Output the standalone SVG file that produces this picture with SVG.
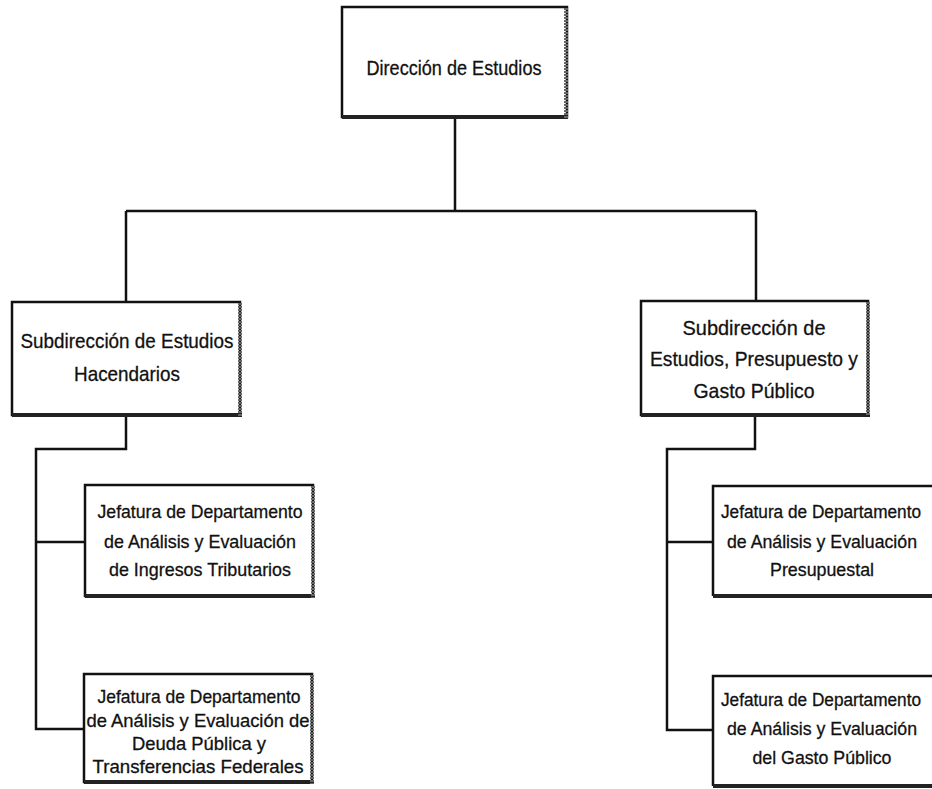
<svg xmlns="http://www.w3.org/2000/svg" width="932" height="789" viewBox="0 0 932 789">
<style>
.box{fill:#fff;stroke:#111;stroke-width:2.5}
.open{fill:#fff;stroke:none}
.edge{fill:none;stroke:#111;stroke-width:2.5}
.shb{fill:none;stroke:#222;stroke-width:4}
.shr{fill:none;stroke:#666;stroke-width:4;stroke-dasharray:2 1}
.t{font-family:"Liberation Sans",Arial,sans-serif;font-size:21px;fill:#111;stroke:#111;stroke-width:0.3;text-anchor:middle}
.j{font-size:18.5px}
.k{font-size:18px}
.c{fill:none;stroke:#111;stroke-width:2.5}
</style>
<rect width="932" height="789" fill="#fff"/>
<g id="connectors">
<path class="c" d="M455,118 V211 M126,211 H756 M126,211 V301 M756,211 V300"/>
<path class="c" d="M126,416 V449 H36 V729 H83 M36,542 H84"/>
<path class="c" d="M755,416 V449 H667 V730 H712 M667,542 H712"/>
</g>
<g id="direccion">
<rect class="box" x="342" y="7" width="225" height="110"/>
<path class="shb" d="M342,117 H568"/><path class="shr" d="M566,8 V118"/>
<text class="t" x="454" y="75" textLength="175" lengthAdjust="spacingAndGlyphs">Dirección de Estudios</text>
</g>
<g id="sub-hacendarios">
<rect class="box" x="12" y="302" width="228" height="113"/>
<path class="shb" d="M12,415 H242"/><path class="shr" d="M240,303 V416"/>
<text class="t" x="127" y="348" textLength="213" lengthAdjust="spacingAndGlyphs">Subdirección de Estudios</text>
<text class="t" x="127" y="381" textLength="106" lengthAdjust="spacingAndGlyphs">Hacendarios</text>
</g>
<g id="sub-presupuesto">
<rect class="box" x="641" y="301" width="227" height="114"/>
<path class="shb" d="M641,415 H870"/><path class="shr" d="M868,302 V416"/>
<text class="t" x="754" y="335" textLength="143" lengthAdjust="spacingAndGlyphs">Subdirección de</text>
<text class="t" x="754" y="366" textLength="208" lengthAdjust="spacingAndGlyphs">Estudios, Presupuesto y</text>
<text class="t" x="754" y="398" textLength="121" lengthAdjust="spacingAndGlyphs">Gasto Público</text>
</g>
<g id="jef-ingresos">
<rect class="box" x="85" y="485" width="228" height="111"/>
<path class="shb" d="M85,596 H315"/><path class="shr" d="M313,486 V598"/>
<text class="t j" x="200" y="518" textLength="205" lengthAdjust="spacingAndGlyphs">Jefatura de Departamento</text>
<text class="t j" x="200" y="548" textLength="192" lengthAdjust="spacingAndGlyphs">de Análisis y Evaluación</text>
<text class="t j" x="200" y="576" textLength="182" lengthAdjust="spacingAndGlyphs">de Ingresos Tributarios</text>
</g>
<g id="jef-deuda">
<rect class="box" x="84" y="674" width="228" height="108"/>
<path class="shb" d="M84,782 H314"/><path class="shr" d="M312,675 V784"/>
<text class="t j" x="199" y="703" textLength="203" lengthAdjust="spacingAndGlyphs">Jefatura de Departamento</text>
<text class="t j" x="198" y="727" textLength="223" lengthAdjust="spacingAndGlyphs">de Análisis y Evaluación de</text>
<text class="t j" x="199" y="750" textLength="134" lengthAdjust="spacingAndGlyphs">Deuda Pública y</text>
<text class="t j" x="198" y="773" textLength="211" lengthAdjust="spacingAndGlyphs">Transferencias Federales</text>
</g>
<g id="jef-presupuestal">
<rect class="open" x="713" y="486" width="219" height="110"/>
<path class="edge" d="M932,486 H713 V596"/>
<path class="shb" d="M713,596 H932"/>
<text class="t k" x="821" y="518" textLength="200" lengthAdjust="spacingAndGlyphs">Jefatura de Departamento</text>
<text class="t j" x="822" y="548" textLength="190" lengthAdjust="spacingAndGlyphs">de Análisis y Evaluación</text>
<text class="t j" x="822" y="576" textLength="104" lengthAdjust="spacingAndGlyphs">Presupuestal</text>
</g>
<g id="jef-gasto">
<rect class="open" x="713" y="676" width="219" height="110"/>
<path class="edge" d="M932,676 H713 V786"/>
<path class="shb" d="M713,786 H932"/>
<text class="t k" x="821" y="706" textLength="200" lengthAdjust="spacingAndGlyphs">Jefatura de Departamento</text>
<text class="t j" x="822" y="735" textLength="190" lengthAdjust="spacingAndGlyphs">de Análisis y Evaluación</text>
<text class="t j" x="822" y="764" textLength="139" lengthAdjust="spacingAndGlyphs">del Gasto Público</text>
</g>
</svg>
